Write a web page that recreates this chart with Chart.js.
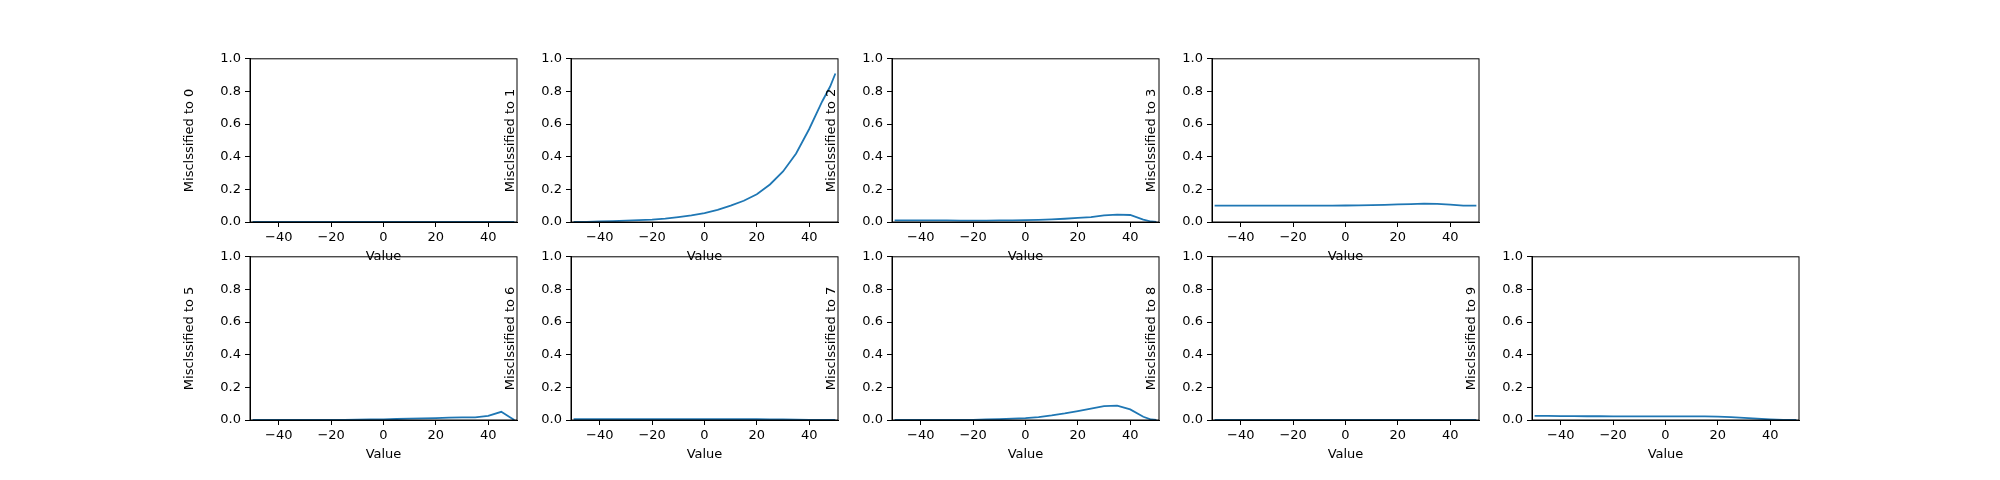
<!DOCTYPE html>
<html lang="en">
<head>
<meta charset="UTF-8">
<title>Misclassification</title>
<script src="https://cdn.jsdelivr.net/npm/chart.js"></script>
<style>
  body { margin: 0; background: #fff; }
  #wrap { position: relative; width: 2000px; height: 480px; }
  .panel { position: absolute; }
</style>
</head>
<body>
<div id="wrap"></div>
<script>
// x values shared by every panel
const xs = [-50, -45, -40, -35, -30, -25, -20, -15, -10, -5, 0, 5, 10, 15, 20, 25, 30, 35, 40, 45, 48, 50];

const series0 = [0,0,0,0,0,0,0,0,0,0,0,0,0,0,0,0,0,0,0,0,0,0];
const series1 = [0,0.001,0.003,0.005,0.008,0.011,0.015,0.021,0.03,0.04,0.055,0.075,0.1,0.13,0.17,0.23,0.31,0.42,0.57,0.74,0.83,0.91];
const series2 = [0.01,0.01,0.01,0.01,0.01,0.009,0.009,0.009,0.01,0.01,0.011,0.013,0.016,0.02,0.025,0.03,0.04,0.045,0.043,0.015,0.003,0];
const series3 = [0.1,0.1,0.1,0.1,0.1,0.1,0.1,0.1,0.1,0.1,0.101,0.102,0.103,0.105,0.108,0.11,0.112,0.111,0.106,0.1,0.1,0.1];
const series5 = [0,0,0,0,0,0,0,0.001,0.002,0.003,0.004,0.006,0.008,0.01,0.012,0.015,0.016,0.016,0.025,0.05,0.02,0];
const series6 = [0.005,0.005,0.005,0.005,0.005,0.005,0.005,0.005,0.005,0.005,0.005,0.005,0.005,0.005,0.005,0.004,0.003,0.002,0.001,0,0,0];
const series7 = [0,0,0,0,0,0,0.001,0.003,0.005,0.008,0.012,0.018,0.028,0.04,0.055,0.07,0.085,0.088,0.065,0.02,0.003,0];
const series8 = [0,0,0,0,0,0,0,0,0,0,0,0,0,0,0,0,0,0,0,0,0,0];
const series9 = [0.025,0.025,0.024,0.024,0.023,0.023,0.022,0.022,0.022,0.022,0.022,0.022,0.022,0.022,0.021,0.018,0.013,0.008,0.004,0.001,0,0];

const yTicks = [0, 0.2, 0.4, 0.6, 0.8, 1.0];
const xTicks = [-40, -20, 0, 20, 40];

const panels = [
  { label: 'Misclssified to 0', data: series0, col: 0, row: 0 },
  { label: 'Misclssified to 1', data: series1, col: 1, row: 0 },
  { label: 'Misclssified to 2', data: series2, col: 2, row: 0 },
  { label: 'Misclssified to 3', data: series3, col: 3, row: 0 },
  { label: 'Misclssified to 5', data: series5, col: 0, row: 1 },
  { label: 'Misclssified to 6', data: series6, col: 1, row: 1 },
  { label: 'Misclssified to 7', data: series7, col: 2, row: 1 },
  { label: 'Misclssified to 8', data: series8, col: 3, row: 1 },
  { label: 'Misclssified to 9', data: series9, col: 4, row: 1 },
];

const plotLefts = [250, 571, 892, 1212, 1532];
const plotTops = [57, 255];
const plotW = 267, plotH = 165;
const yAxisW = 72, xAxisH = 42, padTop = 10, padRight = 12;

const frame = {
  id: 'frame',
  afterDraw(chart) {
    const a = chart.chartArea, c = chart.ctx;
    c.save();
    c.strokeStyle = '#000';
    c.lineWidth = 1;
    c.strokeRect(a.left, a.top, a.right - a.left, a.bottom - a.top);
    c.restore();
  }
};

Chart.defaults.font.family = 'DejaVu Sans';
Chart.defaults.font.size = 13;
Chart.defaults.color = '#000';

const wrap = document.getElementById('wrap');
panels.forEach(p => {
  const div = document.createElement('div');
  div.className = 'panel';
  const w = yAxisW + plotW + padRight, h = padTop + plotH + xAxisH;
  div.style.left = (plotLefts[p.col] - yAxisW) + 'px';
  div.style.top = (plotTops[p.row] - padTop) + 'px';
  div.style.width = w + 'px';
  div.style.height = h + 'px';
  const cv = document.createElement('canvas');
  div.appendChild(cv);
  wrap.appendChild(div);

  new Chart(cv, {
    type: 'line',
    data: {
      datasets: [{
        data: xs.map((x, i) => ({ x: x, y: p.data[i] })),
        borderColor: '#1f77b4',
        borderWidth: 1.8,
        pointRadius: 0,
        tension: 0,
        fill: false,
      }]
    },
    options: {
      responsive: true,
      maintainAspectRatio: false,
      animation: false,
      layout: { padding: { top: padTop, right: padRight, left: 0, bottom: 0 } },
      plugins: { legend: { display: false }, tooltip: { enabled: false } },
      scales: {
        x: {
          type: 'linear', min: -51, max: 51,
          afterBuildTicks: s => { s.ticks = xTicks.map(v => ({ value: v })); },
          afterFit: s => { s.height = xAxisH; },
          ticks: { padding: 3, callback: v => String(v).replace('-', '\u2212') },
          grid: { drawOnChartArea: false, tickLength: 5, color: '#000' },
          border: { color: '#000' },
          title: { display: true, text: 'Value', padding: 0 },
        },
        y: {
          min: 0, max: 1,
          afterBuildTicks: s => { s.ticks = yTicks.map(v => ({ value: v })); },
          afterFit: s => { s.width = yAxisW; },
          ticks: { padding: 4, callback: v => v.toFixed(1) },
          grid: { drawOnChartArea: false, tickLength: 5, color: '#000' },
          border: { color: '#000' },
          title: { display: true, text: p.label, padding: 4 },
        }
      }
    },
    plugins: [frame]
  });
});
</script>
</body>
</html>
